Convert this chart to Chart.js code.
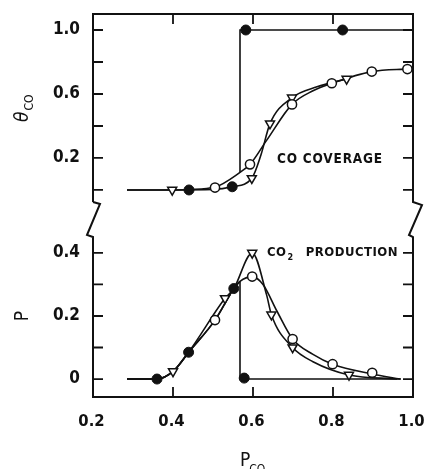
<!DOCTYPE html>
<html>
<head>
<meta charset="utf-8">
<script src="https://cdn.jsdelivr.net/npm/chart.js@4.4.0/dist/chart.umd.min.js"></script>
<style>
  html, body { margin: 0; padding: 0; background: #ffffff; }
  canvas { display: block; }
</style>
</head>
<body>
<canvas id="c" width="424" height="469"></canvas>
<script>
// ---------------- DATA ----------------
// x axis: CO partial pressure
const xTickValues = [0.2, 0.4, 0.6, 0.8, 1.0];
const xTickLabels = ['0.2', '0.4', '0.6', '0.8', '1.0'];

// top panel: CO coverage (theta_CO)
const topTickValues = [0, 0.2, 0.4, 0.6, 0.8, 1.0];
const topTickLabels = ['', '0.2', '', '0.6', '', '1.0'];

const topCircleX = [0.505, 0.5925, 0.6975, 0.797, 0.897, 0.986];
const topCircleY = [0.015, 0.16, 0.535, 0.667, 0.74, 0.756];
const topTriangleX = [0.398, 0.597, 0.6425, 0.6975, 0.834];
const topTriangleY = [0.0, 0.073, 0.415, 0.577, 0.694];
const topFilledX = [0.44, 0.548, 0.582, 0.824];
const topFilledY = [0.0, 0.02, 1.0, 1.0];

const topCircleCurveX = [0.285, 0.40, 0.44, 0.505, 0.5675, 0.5925, 0.634, 0.6975, 0.75, 0.797, 0.897, 0.99];
const topCircleCurveY = [0, 0, 0.003, 0.018, 0.11, 0.16, 0.31, 0.535, 0.62, 0.667, 0.74, 0.757];
const topTriangleCurveX = [0.285, 0.398, 0.50, 0.548, 0.597, 0.62, 0.6425, 0.6975, 0.76, 0.834];
const topTriangleCurveY = [0, 0, 0.003, 0.02, 0.073, 0.22, 0.415, 0.577, 0.645, 0.694];
const topStepX = [0.5675, 0.5675, 0.99];
const topStepY = [0.11, 1.0, 1.0];

// bottom panel: CO2 production (P)
const botTickValues = [0, 0.1, 0.2, 0.3, 0.4];
const botTickLabels = ['0', '', '0.2', '', '0.4'];

const botCircleX = [0.505, 0.598, 0.699, 0.799, 0.898];
const botCircleY = [0.187, 0.325, 0.127, 0.047, 0.02];
const botTriangleX = [0.40, 0.53, 0.598, 0.646, 0.699, 0.84];
const botTriangleY = [0.024, 0.256, 0.40, 0.204, 0.10, 0.013];
const botFilledX = [0.36, 0.439, 0.552, 0.578];
const botFilledY = [0.0, 0.085, 0.287, 0.003];

const botCircleCurveX = [0.285, 0.36, 0.40, 0.439, 0.505, 0.552, 0.5675, 0.598, 0.625, 0.66, 0.699, 0.75, 0.799, 0.898, 0.968];
const botCircleCurveY = [0, 0, 0.024, 0.085, 0.187, 0.287, 0.31, 0.325, 0.30, 0.215, 0.127, 0.078, 0.047, 0.016, 0];
const botTriangleCurveX = [0.285, 0.36, 0.40, 0.439, 0.53, 0.552, 0.598, 0.634, 0.646, 0.699, 0.75, 0.84, 0.96];
const botTriangleCurveY = [0, 0, 0.024, 0.085, 0.256, 0.287, 0.40, 0.267, 0.204, 0.10, 0.055, 0.013, 0];
const botFilledRiseX = [0.285, 0.36, 0.40, 0.439, 0.505, 0.552, 0.5675];
const botFilledRiseY = [0, 0, 0.024, 0.085, 0.187, 0.287, 0.31];
const botStepX = [0.5675, 0.5675, 0.97];
const botStepY = [0.31, 0, 0];

// texts
const topLabelText = 'CO COVERAGE';
const botLabelMain = 'CO';
const botLabelSub = '2';
const botLabelRest = 'PRODUCTION';
const xTitleMain = 'P';
const xTitleSub = 'CO';
const yTopTitleMain = 'θ';
const yTopTitleSub = 'CO';
const yBotTitle = 'P';

// ---------------- FONT PICK ----------------
const FONT = (function () {
  const c = document.createElement('canvas').getContext('2d');
  c.font = 'bold 20px monospace';
  const a = c.measureText('0.6 COVERAGE').width;
  c.font = 'bold 20px "Liberation Sans Narrow", monospace';
  const b = c.measureText('0.6 COVERAGE').width;
  if (Math.abs(a - b) > 0.5) return { family: '"Liberation Sans Narrow"', tick: 20, xtick: 20, text: 15.5, title: 21, sub: 14, spacing: '1px' };
  return { family: '"DejaVu Sans Condensed", "DejaVu Sans"', tick: 17, xtick: 16.5, text: 13.5, title: 19, sub: 12, spacing: '0.8px' };
})();

const INK = '#111111';
function pts(xs, ys) { return xs.map((x, i) => ({ x: x, y: ys[i] })); }

const curve = { showLine: true, pointRadius: 0, pointHoverRadius: 0, borderColor: INK, borderWidth: 1.6, fill: false, order: 2 };
const openCircle = { showLine: false, pointStyle: 'circle', pointRadius: 4.6, backgroundColor: '#ffffff', borderColor: INK, borderWidth: 1.5, order: 0 };
const triangle = { showLine: false, pointStyle: 'triangle', rotation: 180, pointRadius: 5.2, backgroundColor: '#ffffff', borderColor: INK, borderWidth: 1.5, order: 0 };
const filled = { showLine: false, pointStyle: 'circle', pointRadius: 5, backgroundColor: INK, borderColor: INK, borderWidth: 1, order: 0 };

const datasets = [
  Object.assign({ data: pts(topCircleCurveX, topCircleCurveY), yAxisID: 'yT', cubicInterpolationMode: 'monotone' }, curve),
  Object.assign({ data: pts(topTriangleCurveX, topTriangleCurveY), yAxisID: 'yT', cubicInterpolationMode: 'monotone' }, curve),
  Object.assign({ data: pts(topStepX, topStepY), yAxisID: 'yT', tension: 0 }, curve),
  Object.assign({ data: pts(botCircleCurveX, botCircleCurveY), yAxisID: 'yB', cubicInterpolationMode: 'monotone' }, curve),
  Object.assign({ data: pts(botTriangleCurveX, botTriangleCurveY), yAxisID: 'yB', cubicInterpolationMode: 'monotone' }, curve),
  Object.assign({ data: pts(botFilledRiseX, botFilledRiseY), yAxisID: 'yB', cubicInterpolationMode: 'monotone' }, curve),
  Object.assign({ data: pts(botStepX, botStepY), yAxisID: 'yB', tension: 0 }, curve),
  Object.assign({ data: pts(topCircleX, topCircleY), yAxisID: 'yT' }, openCircle),
  Object.assign({ data: pts(topTriangleX, topTriangleY), yAxisID: 'yT' }, triangle),
  Object.assign({ data: pts(topFilledX, topFilledY), yAxisID: 'yT' }, filled),
  Object.assign({ data: pts(botCircleX, botCircleY), yAxisID: 'yB' }, openCircle),
  Object.assign({ data: pts(botTriangleX, botTriangleY), yAxisID: 'yB' }, triangle),
  Object.assign({ data: pts(botFilledX, botFilledY), yAxisID: 'yB' }, filled)
];

function fixedTicks(values) {
  return function (scale) { scale.ticks = values.map(v => ({ value: v })); };
}
function noPad(w, h) {
  return function (s) {
    if (w !== null) s.width = w;
    if (h !== null) s.height = h;
    s.paddingLeft = 0; s.paddingRight = 0; s.paddingTop = 0; s.paddingBottom = 0;
  };
}
const tickFont = { family: FONT.family, size: FONT.tick, weight: 'bold' };
const xTickFont = { family: FONT.family, size: FONT.xtick, weight: 'bold' };

// frame, inward ticks, axis break marks, titles, annotations
const framePlugin = {
  id: 'frame',
  afterDatasetsDraw(chart) {
    const ctx = chart.ctx;
    const { left: L, right: R, top: T, bottom: B } = chart.chartArea;
    const sx = chart.scales.x, sT = chart.scales.yT, sB = chart.scales.yB;
    const mid = sT.bottom;
    const b1 = mid - 15, b2 = mid + 20;
    ctx.save();
    ctx.strokeStyle = INK;
    ctx.lineJoin = 'miter';
    ctx.lineCap = 'butt';
    ctx.lineWidth = 2;
    // frame with breaks
    ctx.beginPath();
    ctx.moveTo(L, b1); ctx.lineTo(L, T); ctx.lineTo(R, T); ctx.lineTo(R, b1);
    ctx.lineTo(R + 9, b1 + 3); ctx.lineTo(R - 4, b2 - 2); ctx.lineTo(R, b2);
    ctx.lineTo(R, B); ctx.lineTo(L, B); ctx.lineTo(L, b2);
    ctx.lineTo(L - 6, b2 - 2); ctx.lineTo(L + 7, b1 + 2); ctx.lineTo(L, b1);
    ctx.stroke();
    // inward ticks
    ctx.lineWidth = 1.8;
    const tl = 10;
    ctx.beginPath();
    xTickValues.forEach(v => {
      const px = sx.getPixelForValue(v);
      if (px <= L + 1 || px >= R - 1) return;
      ctx.moveTo(px, T); ctx.lineTo(px, T + tl);
      ctx.moveTo(px, B); ctx.lineTo(px, B - tl);
    });
    topTickValues.forEach(v => {
      const py = sT.getPixelForValue(v);
      ctx.moveTo(L, py); ctx.lineTo(L + tl, py);
      ctx.moveTo(R, py); ctx.lineTo(R - tl, py);
    });
    botTickValues.forEach(v => {
      const py = sB.getPixelForValue(v);
      ctx.moveTo(L, py); ctx.lineTo(L + tl, py);
      ctx.moveTo(R, py); ctx.lineTo(R - tl, py);
    });
    ctx.stroke();

    ctx.fillStyle = INK;
    ctx.textBaseline = 'alphabetic';
    ctx.textAlign = 'left';
    try { ctx.letterSpacing = FONT.spacing; } catch (e) {}
    // annotation: CO COVERAGE
    ctx.font = 'bold ' + FONT.text + 'px ' + FONT.family;
    ctx.fillText(topLabelText, sx.getPixelForValue(0.66), sT.getPixelForValue(0.2) + 5);
    // annotation: CO2 PRODUCTION
    try { ctx.letterSpacing = '0.5px'; } catch (e) {}
    let x0 = sx.getPixelForValue(0.635);
    const yb = sB.getPixelForValue(0.4) + 3;
    ctx.font = 'bold 13px ' + FONT.family;
    ctx.fillText(botLabelMain, x0, yb);
    x0 += ctx.measureText(botLabelMain).width + 1;
    ctx.font = 'bold 9px ' + FONT.family;
    ctx.fillText(botLabelSub, x0, yb + 4);
    x0 += ctx.measureText(botLabelSub).width + 12;
    ctx.font = 'bold 13px ' + FONT.family;
    ctx.fillText(botLabelRest, x0, yb);
    try { ctx.letterSpacing = '0px'; } catch (e) {}

    // x title: P_CO
    ctx.font = FONT.title + 'px ' + FONT.family;
    const xc = sx.getPixelForValue(0.6) - 13;
    ctx.fillText(xTitleMain, xc, 466);
    const pw = ctx.measureText(xTitleMain).width;
    ctx.font = FONT.sub + 'px ' + FONT.family;
    ctx.fillText(xTitleSub, xc + pw - 1, 473);

    // y title top: theta_CO (rotated)
    ctx.save();
    ctx.translate(28, 122);
    ctx.rotate(-Math.PI / 2);
    ctx.font = 'italic ' + FONT.title + 'px ' + FONT.family;
    ctx.fillText(yTopTitleMain, 0, 0);
    const tw = ctx.measureText(yTopTitleMain).width;
    ctx.font = FONT.sub + 'px ' + FONT.family;
    ctx.fillText(yTopTitleSub, tw + 1, 5);
    ctx.restore();

    // y title bottom: P (rotated)
    ctx.save();
    ctx.translate(28, sB.getPixelForValue(0.2));
    ctx.rotate(-Math.PI / 2);
    ctx.textAlign = 'center';
    ctx.font = FONT.title + 'px ' + FONT.family;
    ctx.fillText(yBotTitle, 0, 0);
    ctx.restore();
    ctx.restore();
  }
};

new Chart(document.getElementById('c'), {
  type: 'scatter',
  data: { datasets: datasets },
  options: {
    responsive: false,
    animation: false,
    devicePixelRatio: 1,
    events: [],
    layout: { padding: { top: 14, right: 11, left: 0, bottom: 0 } },
    plugins: { legend: { display: false }, tooltip: { enabled: false }, title: { display: false } },
    scales: {
      x: {
        type: 'linear', position: 'bottom', min: 0.2, max: 1.0,
        afterBuildTicks: fixedTicks(xTickValues),
        afterFit: noPad(null, 72),
        grid: { display: false, drawTicks: false }, border: { display: false },
        ticks: { autoSkip: false, maxRotation: 0, padding: 15, labelOffset: -1.5, color: INK, font: xTickFont,
                 callback: (v, i) => xTickLabels[i] }
      },
      yB: {
        type: 'linear', position: 'left', stack: 'panels', stackWeight: 180, weight: 1,
        min: -0.057, max: 0.514,
        afterBuildTicks: fixedTicks(botTickValues),
        afterFit: noPad(93, null),
        grid: { display: false, drawTicks: false }, border: { display: false },
        ticks: { autoSkip: false, padding: 13, color: INK, font: tickFont,
                 callback: (v, i) => botTickLabels[i] }
      },
      yT: {
        type: 'linear', position: 'left', stack: 'panels', stackWeight: 203, weight: 2,
        min: -0.169, max: 1.1,
        afterBuildTicks: fixedTicks(topTickValues),
        afterFit: noPad(93, null),
        grid: { display: false, drawTicks: false }, border: { display: false },
        ticks: { autoSkip: false, padding: 13, color: INK, font: tickFont,
                 callback: (v, i) => topTickLabels[i] }
      }
    }
  },
  plugins: [framePlugin]
});
</script>
</body>
</html>
